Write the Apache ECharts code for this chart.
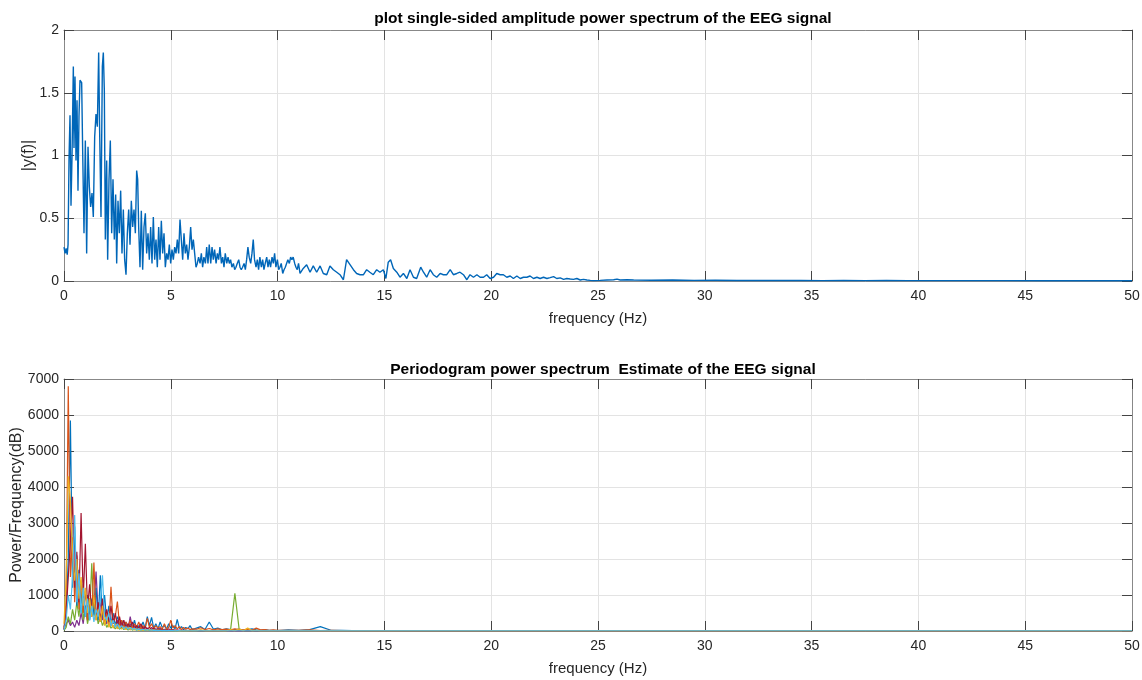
<!DOCTYPE html>
<html><head><meta charset="utf-8">
<script src="https://cdn.jsdelivr.net/npm/echarts@6/dist/echarts.min.js"></script>
<style>html,body{margin:0;padding:0;background:#fff}#c{width:1142px;height:680px}</style>
</head><body><div id="c"></div>
<script>
// ---------- tick labels ----------
const xTicks = [0,5,10,15,20,25,30,35,40,45,50];
const yTicksTop = [0,0.5,1,1.5,2];
const yTicksBottom = [0,1000,2000,3000,4000,5000,6000,7000];

// ---------- top: single-sided amplitude spectrum ----------
const freqTop = [0,0.05,0.10,0.15,0.19,0.234,0.281,0.328,0.375,0.437,0.468,0.515,0.562,0.609,0.655,0.702,0.749,0.827,0.874,0.936,
0.999,1.061,1.124,1.186,1.248,1.311,1.373,1.436,1.498,1.561,1.623,1.670,1.732,1.795,1.841,1.888,1.935,1.998,2.044,2.107,
2.169,2.232,2.294,2.356,2.419,2.466,2.528,2.590,2.653,2.715,2.778,2.840,2.903,2.965,3.028,3.090,3.152,3.215,3.277,3.340,
3.402,3.449,3.496,3.558,3.620,3.683,3.745,3.808,3.870,3.933,3.995,4.057,4.120,4.182,4.245,4.307,4.369,4.432,4.494,4.557,
4.619,4.682,4.744,4.806,4.869,4.931,4.994,5.056,5.118,5.181,5.243,5.306,5.368,5.431,5.493,5.556,5.618,5.680,5.743,5.805,
5.868,5.930,5.993,6.055,6.117,6.18,6.24,6.30,6.37,6.43,6.49,6.55,6.62,6.68,6.74,6.80,6.87,6.93,6.99,7.05,
7.12,7.18,7.24,7.30,7.37,7.43,7.49,7.55,7.62,7.68,7.74,7.80,7.86,7.93,7.99,8.05,8.11,8.18,8.24,8.30,
8.36,8.43,8.49,8.55,8.61,8.67,8.74,8.80,8.86,8.92,8.99,9.05,9.11,9.17,9.24,9.30,9.36,9.42,9.49,9.55,
9.61,9.67,9.74,9.80,9.86,9.92,9.99,10.05,10.11,10.17,10.24,10.30,10.36,10.42,10.48,10.55,10.61,10.67,10.73,10.80,
10.86,10.92,10.98,11.05,11.20,11.36,11.52,11.67,11.83,11.99,12.14,12.30,12.45,12.61,12.77,12.92,13.08,13.23,13.39,13.55,
13.70,13.86,14.02,14.17,14.32,14.48,14.64,14.79,14.95,15.07,15.18,15.29,15.42,15.58,15.73,15.89,16.05,16.20,16.36,16.51,
16.70,16.83,16.98,17.14,17.29,17.45,17.61,17.76,17.92,18.08,18.23,18.39,18.54,18.70,18.86,19.01,19.17,19.33,19.48,19.64,
19.79,19.95,20.11,20.26,20.42,20.57,20.73,20.89,21.04,21.20,21.36,21.51,21.67,21.82,21.98,22.14,22.29,22.45,22.61,22.76,
22.92,23.07,23.23,23.39,23.54,23.70,23.85,24.01,24.17,24.32,24.48,24.64,24.79,25.10,25.42,25.73,25.89,26.04,26.36,26.67,
27.5,28.5,29.5,30.5,31.5,32.5,33.5,34.5,35.5,36.5,37.5,38.5,39.5,40.5,42,44,46,48,50];
const ampTop = [0.27,0.22,0.26,0.21,0.29,0.96,1.32,0.60,0.99,1.71,1.06,1.63,0.96,1.44,0.72,1.31,1.60,1.58,1.04,0.38,
1.12,0.22,1.07,0.75,0.59,0.70,0.51,1.15,1.33,1.23,1.82,1.18,0.51,1.71,1.82,1.52,0.33,0.96,0.17,0.81,
1.12,0.38,0.81,0.33,0.69,0.14,0.64,0.38,0.72,0.22,0.57,0.17,0.05,0.38,0.57,0.29,0.64,0.43,0.57,0.38,
0.88,0.81,0.43,0.11,0.56,0.09,0.43,0.54,0.22,0.38,0.17,0.43,0.14,0.51,0.17,0.33,0.11,0.43,0.17,0.48,
0.22,0.38,0.11,0.22,0.17,0.29,0.14,0.25,0.17,0.27,0.22,0.33,0.22,0.49,0.33,0.17,0.38,0.22,0.29,0.17,
0.27,0.43,0.25,0.33,0.22,0.11,0.14,0.19,0.14,0.22,0.11,0.19,0.14,0.27,0.14,0.29,0.14,0.27,0.17,0.25,
0.14,0.22,0.17,0.27,0.14,0.19,0.11,0.22,0.14,0.19,0.14,0.17,0.11,0.14,0.09,0.11,0.14,0.17,0.11,0.09,
0.11,0.14,0.09,0.17,0.27,0.19,0.14,0.22,0.33,0.17,0.11,0.17,0.09,0.19,0.11,0.17,0.09,0.14,0.19,0.11,
0.17,0.11,0.19,0.14,0.22,0.11,0.17,0.09,0.11,0.14,0.06,0.09,0.11,0.14,0.17,0.14,0.19,0.17,0.19,0.14,
0.11,0.09,0.14,0.06,0.10,0.13,0.07,0.12,0.07,0.12,0.06,0.05,0.12,0.09,0.07,0.05,0.01,0.17,0.13,0.09,
0.06,0.05,0.05,0.09,0.07,0.05,0.09,0.07,0.09,0.02,0.15,0.17,0.10,0.07,0.03,0.06,0.02,0.09,0.03,0.02,
0.11,0.07,0.03,0.09,0.05,0.03,0.06,0.05,0.05,0.09,0.05,0.06,0.07,0.05,0.01,0.05,0.03,0.05,0.03,0.03,
0.05,0.02,0.03,0.06,0.05,0.05,0.03,0.04,0.02,0.04,0.02,0.03,0.03,0.04,0.02,0.03,0.02,0.03,0.02,0.027,
0.035,0.02,0.025,0.013,0.02,0.016,0.013,0.02,0.008,0.013,0.008,0.005,0.003,0.005,0.008,0.01,0.015,0.008,0.01,0.008,
0.006,0.008,0.005,0.006,0.004,0.005,0.004,0.005,0.003,0.004,0.003,0.004,0.003,0.003,0.003,0.003,0.002,0.003,0.002];

// ---------- bottom: periodogram, several channels ----------
const freqBottom = [0,0.1,0.2,0.3,0.4,0.5,0.6,0.7,0.8,0.9,
1,1.1,1.2,1.3,1.4,1.5,1.6,1.7,1.8,1.9,
2,2.1,2.2,2.3,2.4,2.5,2.6,2.7,2.8,2.9,
3,3.1,3.2,3.3,3.4,3.5,3.6,3.7,3.8,3.9,
4,4.1,4.2,4.3,4.4,4.5,4.6,4.7,4.8,4.9,
5,5.1,5.2,5.3,5.4,5.5,5.6,5.7,5.8,5.9,
6,
6.2,6.4,6.6,6.8,7,7.2,7.4,7.6,7.8,8,8.2,8.4,8.6,8.8,9,9.2,9.4,9.6,9.8,10,
10.5,11,11.5,12,12.5,13,13.5,14,15,16,17,18,20,25,30,35,40,45,50];

const pBlue = [100,400,2000,5850,1200,2900,700,1700,500,1300,
400,1000,300,900,450,1200,300,1550,400,1000,
250,700,200,500,150,400,200,300,120,250,
100,200,80,300,60,150,100,250,80,400,
150,380,80,200,60,250,100,150,50,200,
80,150,60,320,70,120,40,100,60,150,
40,
80,120,40,250,50,80,30,60,40,30,50,20,40,60,30,20,40,15,20,10,
30,20,40,120,20,15,10,12,8,6,5,4,3,3,2,2,2,2,2];
const pOrange = [50,900,6800,1500,2600,800,2100,600,1400,500,
1100,300,900,400,1900,300,700,250,600,200,
500,150,1230,200,400,820,150,300,100,250,
120,300,80,200,100,250,60,150,80,350,
100,200,60,150,80,120,50,200,60,100,
300,80,150,60,120,40,100,50,80,40,
60,
50,90,40,70,30,60,40,50,30,60,40,30,50,20,80,30,40,20,30,15,
20,15,30,10,15,10,8,10,6,8,5,5,4,3,3,2,2,2,2];
const pYellow = [200,1500,4300,3600,2200,1400,2000,900,1500,700,
1200,500,900,400,1000,300,600,250,700,150,
400,100,300,80,200,60,150,50,120,40,
100,30,80,30,60,20,50,20,40,15,
40,15,30,10,25,10,20,10,20,8,
15,8,15,6,12,6,10,5,10,5,
8,
8,40,6,10,5,8,5,6,40,5,60,4,80,4,20,3,4,3,3,2,
3,2,3,2,2,2,2,2,1,1,1,1,1,1,1,1,1,1,1];
const pPurple = [50,200,300,150,250,100,300,150,500,200,
700,300,900,400,600,1650,500,800,300,600,
200,400,150,350,120,300,100,250,80,200,
60,400,80,150,60,100,50,120,40,80,
30,100,40,60,30,80,30,50,20,60,
20,40,15,30,15,25,10,20,10,15,
10,
15,8,12,6,10,5,8,40,6,8,5,6,4,5,3,4,3,3,2,2,
3,2,2,2,2,2,1,1,1,1,1,1,1,1,1,1,1,1,1];
const pGreen = [20,100,400,200,600,300,800,400,1100,300,
700,200,500,1880,400,600,200,400,150,300,
100,200,80,150,60,120,50,100,40,80,
30,60,25,50,20,40,20,30,15,25,
15,20,10,20,10,15,10,15,8,12,
8,10,6,10,6,8,5,8,5,6,
5,
5,4,5,4,5,4,5,6,40,1050,50,6,5,4,4,3,3,3,2,2,
2,2,2,2,2,1,1,1,1,1,1,1,1,1,1,1,1,1,1];
const pLightBlue = [30,300,1000,600,1500,3220,800,1600,500,1200,
400,900,300,700,250,600,400,800,1550,400,
300,500,150,300,100,200,80,150,60,120,
50,100,40,80,30,60,30,50,20,40,
20,30,15,25,10,20,10,15,8,12,
8,10,6,8,5,6,4,5,4,4,
3,
3,3,3,3,3,2,2,2,2,2,2,2,2,2,2,2,2,2,2,2,
2,2,2,2,2,2,2,2,2,2,2,2,2,2,2,2,2,2,2];
const pDarkRed = [40,500,1500,2500,3730,1200,2200,800,3280,900,
2420,600,1300,500,1000,400,800,300,900,400,
600,250,700,200,500,150,400,100,300,80,
200,100,250,60,150,80,200,50,120,60,
100,40,80,30,60,30,50,20,40,20,
30,15,25,10,20,10,15,8,12,6,
10,
8,6,10,5,8,4,6,4,5,3,4,3,4,3,3,2,3,2,2,2,
2,2,2,2,2,1,1,1,1,1,1,1,1,1,1,1,1,1,1];

const channels = [
  {data: pPurple, color: '#7E2F8E'},
  {data: pGreen, color: '#77AC30'},
  {data: pBlue, color: '#0072BD'},
  {data: pOrange, color: '#D95319'},
  {data: pDarkRed, color: '#A2142F'},
  {data: pYellow, color: '#EDB120'},
  {data: pLightBlue, color: '#4DBEEE'}
];

// ---------- chart ----------
const FONT = "'Liberation Sans', Arial, Helvetica, sans-serif";
const TXT = '#262626';
const chart = echarts.init(document.getElementById('c'), null, {renderer: 'canvas'});

function mainX(gi, ticks) {
  return {
    type: 'value', gridIndex: gi, min: ticks[0], max: ticks[ticks.length-1], interval: ticks[1]-ticks[0],
    name: 'frequency (Hz)', nameLocation: 'middle', nameGap: 30, nameMoveOverlap: false,
    nameTextStyle: {fontFamily: FONT, fontSize: 15, color: TXT},
    axisLine: {onZero: false, lineStyle: {color: '#888', width: 1}},
    axisTick: {inside: true, length: 10, lineStyle: {color: '#444'}},
    axisLabel: {fontFamily: FONT, fontSize: 14, color: TXT, margin: 8, formatter: v => String(v)},
    splitLine: {show: true, lineStyle: {color: '#e3e3e3', width: 1}}
  };
}
function boxX(gi, ticks) {
  return {
    type: 'value', gridIndex: gi, position: 'top', min: ticks[0], max: ticks[ticks.length-1], interval: ticks[1]-ticks[0],
    axisLine: {onZero: false, lineStyle: {color: '#888', width: 1}},
    axisTick: {inside: true, length: 10, lineStyle: {color: '#444'}},
    axisLabel: {show: false}, splitLine: {show: false}
  };
}
function mainY(gi, ticks, name, gap) {
  return {
    type: 'value', gridIndex: gi, min: ticks[0], max: ticks[ticks.length-1], interval: ticks[1]-ticks[0],
    name: name, nameLocation: 'middle', nameGap: gap, nameMoveOverlap: false,
    nameTextStyle: {fontFamily: FONT, fontSize: 16, color: TXT},
    axisLine: {show: true, onZero: false, lineStyle: {color: '#888', width: 1}},
    axisTick: {show: true, inside: true, length: 10, lineStyle: {color: '#444'}},
    axisLabel: {fontFamily: FONT, fontSize: 14, color: TXT, margin: 5, formatter: v => String(v)},
    splitLine: {show: true, lineStyle: {color: '#e3e3e3', width: 1}}
  };
}
function boxY(gi, ticks) {
  return {
    type: 'value', gridIndex: gi, position: 'right', min: ticks[0], max: ticks[ticks.length-1], interval: ticks[1]-ticks[0],
    axisLine: {show: true, onZero: false, lineStyle: {color: '#888', width: 1}},
    axisTick: {show: true, inside: true, length: 10, lineStyle: {color: '#444'}},
    axisLabel: {show: false}, splitLine: {show: false}
  };
}

const series = [{
  type: 'line', xAxisIndex: 0, yAxisIndex: 0, showSymbol: false, animation: false,
  lineStyle: {color: '#0066B8', width: 1.4}, itemStyle: {color: '#0066B8'},
  data: freqTop.map((f, i) => [f, ampTop[i]])
}];
channels.forEach(ch => {
  series.push({
    type: 'line', xAxisIndex: 1, yAxisIndex: 1, showSymbol: false, animation: false,
    lineStyle: {color: ch.color, width: 1.2}, itemStyle: {color: ch.color},
    data: freqBottom.map((f, i) => [f, ch.data[i]])
  });
});

chart.setOption({
  backgroundColor: '#fff',
  animation: false,
  title: [
    {text: 'plot single-sided amplitude power spectrum of the EEG signal', left: 598, top: 6, textAlign: 'center',
     textStyle: {fontFamily: FONT, fontSize: 15.5, fontWeight: 'bold', color: '#000'}},
    {text: 'Periodogram power spectrum  Estimate of the EEG signal', left: 598, top: 357, textAlign: 'center',
     textStyle: {fontFamily: FONT, fontSize: 15.5, fontWeight: 'bold', color: '#000'}}
  ],
  grid: [
    {left: 64, right: 10, top: 30, height: 251, containLabel: false, outerBoundsMode: 'none'},
    {left: 64, right: 10, top: 379, height: 252, containLabel: false, outerBoundsMode: 'none'}
  ],
  xAxis: [mainX(0, xTicks), mainX(1, xTicks), boxX(0, xTicks), boxX(1, xTicks)],
  yAxis: [mainY(0, yTicksTop, '|y(f)|', 27), mainY(1, yTicksBottom, 'Power/Frequency(dB)', 39), boxY(0, yTicksTop), boxY(1, yTicksBottom)],
  series: series
});
</script></body></html>
